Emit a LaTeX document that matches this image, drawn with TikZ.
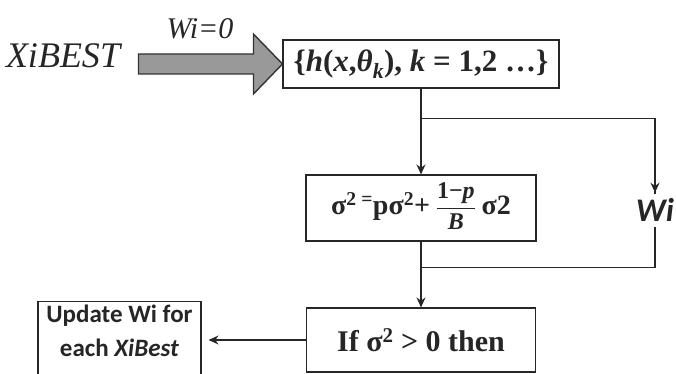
\documentclass[tikz,border=0pt]{standalone}
\usepackage{fontspec}
\setmainfont{Liberation Serif}
\newfontfamily\calfont{Carlito}
\usetikzlibrary{arrows.meta,positioning,calc}

\newcommand{\hsetlabel}{\textbf{\{\textit{h}(\textit{x},\textit{θ}\textsubscript{\textit{k}}), \textit{k} = 1,2 …\}}}
\newcommand{\fracpart}{{\renewcommand{\arraystretch}{1.15}\fontsize{24}{26}\selectfont\begin{tabular}{@{}c@{}}1−\textit{p}\\\hline\textit{B}\end{tabular}}}
\newcommand{\sigmalabel}{σ\textsuperscript{2}\,\textsuperscript{=}pσ\textsuperscript{2}+\ \fracpart\ σ2}

\begin{document}
\begin{tikzpicture}[x=1pt, y=-1pt, >={Stealth[length=10pt,width=9pt]}, color=black!85, line width=1.4pt]
  % Define styles
  \tikzstyle{flowbox}=[rectangle, draw, line width=1.1pt, inner sep=0pt]
  \tikzstyle{freetext}=[inner sep=0pt, font=\fontsize{36}{38}\selectfont\itshape]
  \tikzstyle{bigarrow}=[draw=black!80, fill=black!40, line width=1.4pt, line join=miter]

  \useasboundingbox (0,0) rectangle (676,374);
  \clip (0,0) rectangle (676,374);

  % Nodes
  \node[freetext] (xibest) at (63,56) {XiBEST};
  \node[freetext, font=\fontsize{30}{32}\selectfont\itshape] (wzero) at (200,29) {Wi=0};
  \node[flowbox, minimum width=276pt, minimum height=48pt, font=\fontsize{31}{33}\selectfont] (hset) at (421,64) {\hsetlabel};
  \node[flowbox, minimum width=230pt, minimum height=66pt, font=\fontsize{28}{30}\selectfont\bfseries] (sigma) at (421,208) {\sigmalabel};
  \node[inner xsep=2pt, inner ysep=5pt, font=\fontsize{33}{35}\selectfont\calfont\bfseries\itshape] (wi) at (655,210) {Wi};
  \node[flowbox, minimum width=229pt, minimum height=64pt, font=\fontsize{30}{32}\selectfont\bfseries] (test) at (421,340) {If σ\textsuperscript{2} > 0 then};
  \node[flowbox, anchor=north, minimum width=163pt, inner sep=3pt, text depth=52pt, align=center, font=\fontsize{25}{34}\selectfont\calfont\bfseries] (update) at (119.5,301) {Update Wi for\\each \textit{XiBest}};

  % Block arrow
  \draw[bigarrow] ($(hset.west)+(-144,-10)$) -- ++(115,0) -- ++(0,-20)
    -- (hset.west) -- ++(-29,30) -- ++(0,-20) -- ++(-115,0) -- cycle;

  % Edges
  \draw (hset.south) -- ++(0,30) coordinate (split) -| ([yshift=-1pt]wi.north);
  \draw[->] (split) -- (sigma.north);
  \draw[->] (wi.north |- split) -- (wi.north);
  \draw (sigma.south) -- ++(0,26) coordinate (merge);
  \draw (wi.south) -- (wi.south |- merge) -- (merge);
  \draw[->] (merge) -- (test.north);
  \draw[->, shorten >=7pt] (test.west) -- (update.east |- test.west);
\end{tikzpicture}
\end{document}
